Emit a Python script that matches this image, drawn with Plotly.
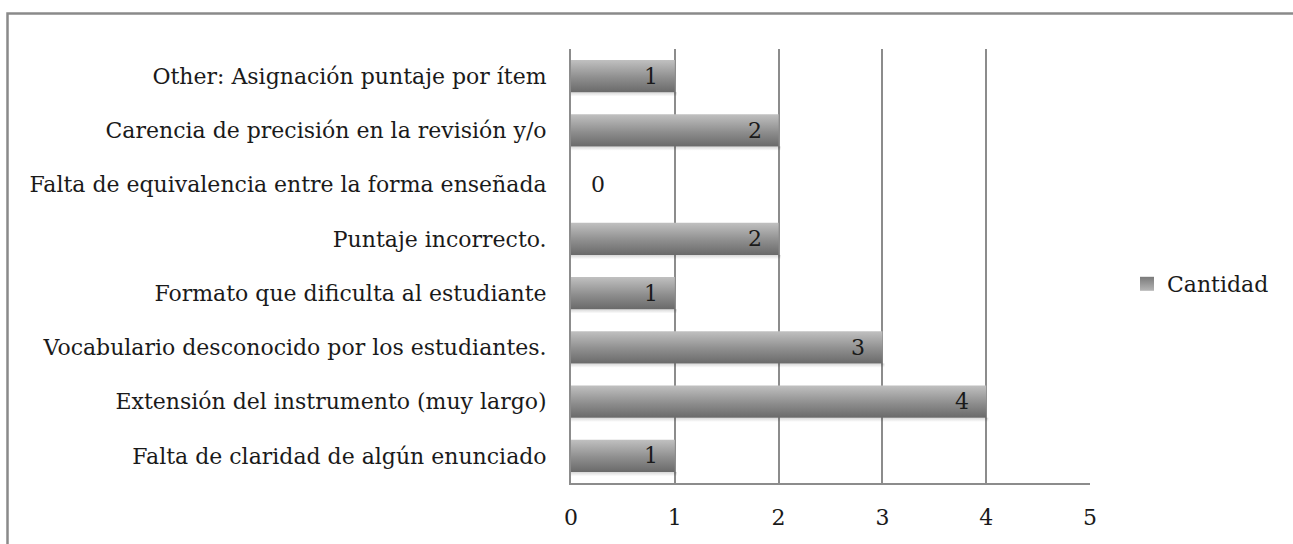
import plotly.graph_objects as go

# Categories listed bottom-to-top, with their counts
categorias = [
    "Falta de claridad de algún enunciado",
    "Extensión del instrumento (muy largo)",
    "Vocabulario desconocido por los estudiantes.",
    "Formato que dificulta al estudiante",
    "Puntaje incorrecto.",
    "Falta de equivalencia entre la forma enseñada",
    "Carencia de precisión en la revisión y/o",
    "Other: Asignación puntaje por ítem",
]
cantidad = [1, 4, 3, 1, 2, 0, 2, 1]
serie = "Cantidad"
x_ticks = [0, 1, 2, 3, 4, 5]

W, H = 1293, 544
L, R, T, B = 571, 1090, 49, 483   # plot area in pixels
FONT = "DejaVu Serif"
FS = 22
TXT = "#1a1a1a"
GRID = "#8c8c8c"
half = 0.295   # half bar thickness in category units
drop = 0.08    # depth of the soft shadow under each bar
shade = [[0, "#6a6a6a"], [0.45, "#8e8e8e"], [1, "#c0c0c0"]]
shadow = [[0, "rgba(0,0,0,0)"], [1, "rgba(0,0,0,0.16)"]]

fig = go.Figure()

# Soft shadow beneath each bar
for i, v in enumerate(cantidad):
    if v == 0:
        continue
    fig.add_trace(go.Scatter(
        x=[0, v + 0.02, v + 0.02, 0, 0],
        y=[i - half - drop, i - half - drop, i - half, i - half, i - half - drop],
        mode="lines", line=dict(width=0),
        fill="toself", fillcolor="rgba(0,0,0,0.06)",
        fillgradient=dict(type="vertical", colorscale=shadow),
        showlegend=False, hoverinfo="skip",
    ))

# Each bar is a filled polygon so it can carry a vertical shading gradient
for i, v in enumerate(cantidad):
    if v == 0:
        continue
    fig.add_trace(go.Scatter(
        x=[0, v, v, 0, 0],
        y=[i - half, i - half, i + half, i + half, i - half],
        mode="lines",
        line=dict(width=0, color="#8f8f8f"),
        fill="toself",
        fillcolor="#8f8f8f",
        fillgradient=dict(type="vertical", colorscale=shade),
        showlegend=False,
        hoverinfo="skip",
    ))

# Legend entry for the series: a small shaded square
fig.add_trace(go.Scatter(
    x=[None], y=[None], mode="markers", name=serie,
    marker=dict(symbol="square", size=14, color="#7a7a7a",
                gradient=dict(type="vertical", color="#b5b5b5"),
                line=dict(width=0)),
))

# Value labels: inside the bar end, or just right of the axis for zero
for i, v in enumerate(cantidad):
    fig.add_annotation(
        x=v, y=i, text=str(v), showarrow=False,
        xanchor="right" if v > 0 else "left",
        xshift=-15 if v > 0 else 18,
        font=dict(family=FONT, size=FS, color=TXT),
    )

# Outer frame of the chart area (top and left edges visible)
fig.add_shape(
    type="rect", xref="paper", yref="paper",
    x0=(7.5 - L) / (R - L), x1=(W + 20 - L) / (R - L),
    y0=(B - (H + 20)) / (B - T), y1=(B - 13.5) / (B - T),
    line=dict(color="#8a8a8a", width=2.5), fillcolor="rgba(0,0,0,0)",
    layer="below",
)

fig.update_layout(
    width=W, height=H,
    margin=dict(l=L, r=W - R, t=T, b=H - B, pad=0, autoexpand=False),
    paper_bgcolor="white", plot_bgcolor="white",
    font=dict(family=FONT, size=FS, color=TXT),
    showlegend=True,
    legend=dict(
        x=(1127 - L) / (R - L), y=(B - 284) / (B - T),
        xanchor="left", yanchor="middle",
        font=dict(family=FONT, size=FS, color=TXT),
        bgcolor="rgba(0,0,0,0)",
    ),
    xaxis=dict(
        range=[0, 5], tickvals=x_ticks, ticktext=[str(t) for t in x_ticks],
        showgrid=True, gridcolor=GRID, gridwidth=2,
        showline=True, linecolor=GRID, linewidth=2,
        zeroline=False, ticks="", ticklabelstandoff=14,
        automargin=False, fixedrange=True,
    ),
    yaxis=dict(
        range=[-0.5, len(categorias) - 0.5],
        tickvals=list(range(len(categorias))), ticktext=categorias,
        showgrid=False, showline=True, linecolor=GRID, linewidth=2,
        zeroline=False, ticks="", ticklabelstandoff=18,
        automargin=False, fixedrange=True,
    ),
)

fig.write_html("out.html")
